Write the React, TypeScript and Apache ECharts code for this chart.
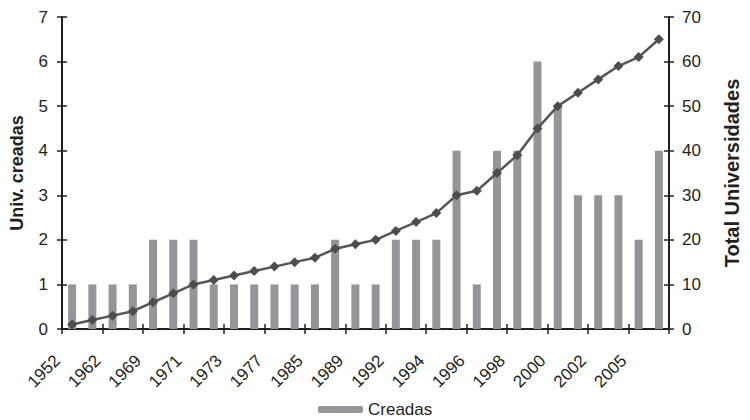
import React, { useEffect, useRef } from "react";
import * as echarts from "echarts";

const years = [
  "1952", "1958", "1962", "1967", "1969", "1970", "1971", "1972", "1973", "1975",
  "1977", "1980", "1985", "1987", "1989", "1991", "1992", "1993", "1994", "1995",
  "1996", "1997", "1998", "1999", "2000", "2001", "2002", "2003", "2005", "2006",
];
const creadas = [1, 1, 1, 1, 2, 2, 2, 1, 1, 1, 1, 1, 1, 2, 1, 1, 2, 2, 2, 4, 1, 4, 4, 6, 5, 3, 3, 3, 2, 4];
const total = [1, 2, 3, 4, 6, 8, 10, 11, 12, 13, 14, 15, 16, 18, 19, 20, 22, 24, 26, 30, 31, 35, 39, 45, 50, 53, 56, 59, 61, 65];
const leftTicks = { min: 0, max: 7, interval: 1 };
const rightTicks = { min: 0, max: 70, interval: 10 };

const FONT = "'Liberation Sans', Arial, Helvetica, sans-serif";
const AXIS = "#231f20";

export default function App() {
  const ref = useRef<HTMLDivElement>(null);
  useEffect(() => {
    if (!ref.current) return;
    const chart = echarts.init(ref.current, undefined, { renderer: "svg" });
    const lineStyle = { color: AXIS, width: 2 };
    const tickStyle = { color: AXIS, width: 1.5 };
    chart.setOption({
      animation: false,
      textStyle: { fontFamily: FONT },
      grid: { left: 57, right: 59, top: 17, bottom: 91, containLabel: false },
      legend: {
        data: ["Creadas"],
        top: 401,
        left: 318,
        padding: 0,
        itemWidth: 45,
        itemHeight: 7,
        itemGap: 6,
        textStyle: { fontSize: 17, color: "#231f20", fontFamily: FONT },
      },
      xAxis: [
        {
          type: "category",
          data: years,
          axisLine: { lineStyle },
          axisTick: { show: true, length: 5, lineStyle: tickStyle },
          axisLabel: {
            interval: 1,
            rotate: 45,
            margin: 14,
            padding: [0, 21, 0, 0],
            fontSize: 17,
            color: "#231f20",
            fontFamily: FONT,
          },
        },
        {
          type: "category",
          data: years,
          position: "bottom",
          axisLine: { show: false },
          axisTick: { show: true, inside: true, length: 5, lineStyle: tickStyle },
          axisLabel: { show: false },
        },
      ],
      yAxis: [
        {
          type: "value",
          position: "left",
          ...leftTicks,
          name: "Univ. creadas",
          nameLocation: "middle",
          nameGap: 36,
          nameRotate: 90,
          nameTextStyle: { fontSize: 18, fontWeight: "bold", color: "#231f20", fontFamily: FONT },
          axisLine: { show: true, lineStyle },
          axisTick: { show: true, length: 5, lineStyle: tickStyle },
          axisLabel: { fontSize: 17, margin: 14, color: "#231f20", fontFamily: FONT },
          splitLine: { show: false },
        },
        {
          type: "value",
          position: "right",
          ...rightTicks,
          name: "Total Universidades",
          nameLocation: "middle",
          nameGap: 53,
          nameRotate: 90,
          nameTextStyle: { fontSize: 20, fontWeight: "bold", color: "#231f20", fontFamily: FONT },
          axisLine: { show: true, lineStyle },
          axisTick: { show: true, length: 5, lineStyle: tickStyle },
          axisLabel: { fontSize: 17, margin: 13, color: "#231f20", fontFamily: FONT },
          splitLine: { show: false },
        },
        {
          type: "value",
          position: "left",
          ...leftTicks,
          axisLine: { show: false },
          axisTick: { show: true, inside: true, length: 5, lineStyle: tickStyle },
          axisLabel: { show: false },
          splitLine: { show: false },
        },
        {
          type: "value",
          position: "right",
          ...rightTicks,
          axisLine: { show: false },
          axisTick: { show: true, inside: true, length: 5, lineStyle: tickStyle },
          axisLabel: { show: false },
          splitLine: { show: false },
        },
      ],
      series: [
        {
          name: "Creadas",
          type: "bar",
          data: creadas,
          yAxisIndex: 0,
          barWidth: 8,
          itemStyle: { color: "#939598" },
        },
        {
          name: "Total",
          type: "line",
          data: total,
          yAxisIndex: 1,
          symbol: "diamond",
          symbolSize: 10,
          lineStyle: { color: "#555658", width: 2.5 },
          itemStyle: { color: "#4d4d4f" },
        },
      ],
    });
    return () => chart.dispose();
  }, []);
  return <div ref={ref} style={{ width: 750, height: 420, position: "absolute", left: 0, top: 0 }} />;
}
